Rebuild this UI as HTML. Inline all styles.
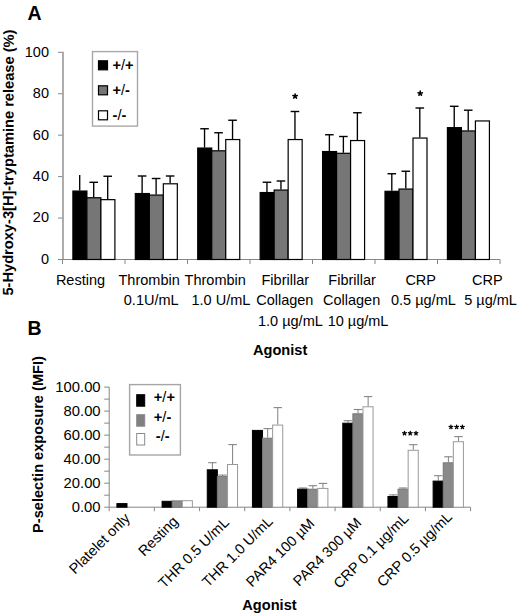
<!DOCTYPE html>
<html><head><meta charset="utf-8"><style>
html,body{margin:0;padding:0;background:#fff;width:520px;height:614px;overflow:hidden}
svg{display:block}
text{font-family:"Liberation Sans", sans-serif;fill:#000}
.t{font-size:14.5px}
.b{font-size:14.6px;font-weight:bold}
.h{font-size:19.5px;font-weight:bold}
</style></head><body>
<svg width="520" height="614" viewBox="0 0 520 614">
<rect width="520" height="614" fill="#fff"/>
<line x1="63" y1="51.8" x2="63" y2="259.5" stroke="#999" stroke-width="1.6"/>
<line x1="62.5" y1="259.5" x2="500.0" y2="259.5" stroke="#868686" stroke-width="1"/>
<line x1="58.0" y1="259.50" x2="62.5" y2="259.50" stroke="#868686" stroke-width="1"/>
<text x="49" y="263.90" text-anchor="end" class="t">0</text>
<line x1="58.0" y1="218.06" x2="62.5" y2="218.06" stroke="#868686" stroke-width="1"/>
<text x="49" y="222.46" text-anchor="end" class="t">20</text>
<line x1="58.0" y1="176.62" x2="62.5" y2="176.62" stroke="#868686" stroke-width="1"/>
<text x="49" y="181.02" text-anchor="end" class="t">40</text>
<line x1="58.0" y1="135.18" x2="62.5" y2="135.18" stroke="#868686" stroke-width="1"/>
<text x="49" y="139.58" text-anchor="end" class="t">60</text>
<line x1="58.0" y1="93.74" x2="62.5" y2="93.74" stroke="#868686" stroke-width="1"/>
<text x="49" y="98.14" text-anchor="end" class="t">80</text>
<line x1="58.0" y1="52.30" x2="62.5" y2="52.30" stroke="#868686" stroke-width="1"/>
<text x="49" y="56.70" text-anchor="end" class="t">100</text>
<line x1="62.50" y1="259.5" x2="62.50" y2="264.0" stroke="#868686" stroke-width="1"/>
<line x1="125.00" y1="259.5" x2="125.00" y2="264.0" stroke="#868686" stroke-width="1"/>
<line x1="187.50" y1="259.5" x2="187.50" y2="264.0" stroke="#868686" stroke-width="1"/>
<line x1="250.00" y1="259.5" x2="250.00" y2="264.0" stroke="#868686" stroke-width="1"/>
<line x1="312.50" y1="259.5" x2="312.50" y2="264.0" stroke="#868686" stroke-width="1"/>
<line x1="375.00" y1="259.5" x2="375.00" y2="264.0" stroke="#868686" stroke-width="1"/>
<line x1="437.50" y1="259.5" x2="437.50" y2="264.0" stroke="#868686" stroke-width="1"/>
<line x1="500.00" y1="259.5" x2="500.00" y2="264.0" stroke="#868686" stroke-width="1"/>
<line x1="79.70" y1="190.50" x2="79.70" y2="174.90" stroke="#000" stroke-width="1.35"/>
<rect x="72.90" y="191.05" width="14.00" height="68.45" fill="#000" stroke="#000" stroke-width="1.2"/>
<line x1="93.70" y1="197.20" x2="93.70" y2="182.30" stroke="#000" stroke-width="1.35"/>
<line x1="89.40" y1="182.30" x2="98.00" y2="182.30" stroke="#000" stroke-width="1.4"/>
<rect x="86.90" y="197.75" width="14.00" height="61.75" fill="#767676" stroke="#000" stroke-width="1.2"/>
<line x1="107.70" y1="199.10" x2="107.70" y2="176.25" stroke="#000" stroke-width="1.35"/>
<line x1="103.40" y1="176.25" x2="112.00" y2="176.25" stroke="#000" stroke-width="1.4"/>
<rect x="100.90" y="199.65" width="14.00" height="59.85" fill="#fff" stroke="#000" stroke-width="1.2"/>
<line x1="142.12" y1="193.00" x2="142.12" y2="176.00" stroke="#000" stroke-width="1.35"/>
<line x1="137.82" y1="176.00" x2="146.42" y2="176.00" stroke="#000" stroke-width="1.4"/>
<rect x="135.32" y="193.55" width="14.00" height="65.95" fill="#000" stroke="#000" stroke-width="1.2"/>
<line x1="156.12" y1="194.50" x2="156.12" y2="178.50" stroke="#000" stroke-width="1.35"/>
<line x1="151.82" y1="178.50" x2="160.42" y2="178.50" stroke="#000" stroke-width="1.4"/>
<rect x="149.32" y="195.05" width="14.00" height="64.45" fill="#767676" stroke="#000" stroke-width="1.2"/>
<line x1="170.12" y1="183.25" x2="170.12" y2="176.00" stroke="#000" stroke-width="1.35"/>
<line x1="165.82" y1="176.00" x2="174.42" y2="176.00" stroke="#000" stroke-width="1.4"/>
<rect x="163.32" y="183.80" width="14.00" height="75.70" fill="#fff" stroke="#000" stroke-width="1.2"/>
<line x1="204.54" y1="147.50" x2="204.54" y2="128.75" stroke="#000" stroke-width="1.35"/>
<line x1="200.24" y1="128.75" x2="208.84" y2="128.75" stroke="#000" stroke-width="1.4"/>
<rect x="197.74" y="148.05" width="14.00" height="111.45" fill="#000" stroke="#000" stroke-width="1.2"/>
<line x1="218.54" y1="150.25" x2="218.54" y2="132.75" stroke="#000" stroke-width="1.35"/>
<line x1="214.24" y1="132.75" x2="222.84" y2="132.75" stroke="#000" stroke-width="1.4"/>
<rect x="211.74" y="150.80" width="14.00" height="108.70" fill="#767676" stroke="#000" stroke-width="1.2"/>
<line x1="232.54" y1="139.00" x2="232.54" y2="120.25" stroke="#000" stroke-width="1.35"/>
<line x1="228.24" y1="120.25" x2="236.84" y2="120.25" stroke="#000" stroke-width="1.4"/>
<rect x="225.74" y="139.55" width="14.00" height="119.95" fill="#fff" stroke="#000" stroke-width="1.2"/>
<line x1="266.96" y1="192.00" x2="266.96" y2="182.25" stroke="#000" stroke-width="1.35"/>
<line x1="262.66" y1="182.25" x2="271.26" y2="182.25" stroke="#000" stroke-width="1.4"/>
<rect x="260.16" y="192.55" width="14.00" height="66.95" fill="#000" stroke="#000" stroke-width="1.2"/>
<line x1="280.96" y1="189.50" x2="280.96" y2="181.00" stroke="#000" stroke-width="1.35"/>
<line x1="276.66" y1="181.00" x2="285.26" y2="181.00" stroke="#000" stroke-width="1.4"/>
<rect x="274.16" y="190.05" width="14.00" height="69.45" fill="#767676" stroke="#000" stroke-width="1.2"/>
<line x1="294.96" y1="139.00" x2="294.96" y2="111.50" stroke="#000" stroke-width="1.35"/>
<line x1="290.66" y1="111.50" x2="299.26" y2="111.50" stroke="#000" stroke-width="1.4"/>
<rect x="288.16" y="139.55" width="14.00" height="119.95" fill="#fff" stroke="#000" stroke-width="1.2"/>
<line x1="329.38" y1="151.00" x2="329.38" y2="134.75" stroke="#000" stroke-width="1.35"/>
<line x1="325.08" y1="134.75" x2="333.68" y2="134.75" stroke="#000" stroke-width="1.4"/>
<rect x="322.58" y="151.55" width="14.00" height="107.95" fill="#000" stroke="#000" stroke-width="1.2"/>
<line x1="343.38" y1="152.75" x2="343.38" y2="136.50" stroke="#000" stroke-width="1.35"/>
<line x1="339.08" y1="136.50" x2="347.68" y2="136.50" stroke="#000" stroke-width="1.4"/>
<rect x="336.58" y="153.30" width="14.00" height="106.20" fill="#767676" stroke="#000" stroke-width="1.2"/>
<line x1="357.38" y1="140.00" x2="357.38" y2="112.75" stroke="#000" stroke-width="1.35"/>
<line x1="353.08" y1="112.75" x2="361.68" y2="112.75" stroke="#000" stroke-width="1.4"/>
<rect x="350.58" y="140.55" width="14.00" height="118.95" fill="#fff" stroke="#000" stroke-width="1.2"/>
<line x1="391.80" y1="190.75" x2="391.80" y2="173.75" stroke="#000" stroke-width="1.35"/>
<line x1="387.50" y1="173.75" x2="396.10" y2="173.75" stroke="#000" stroke-width="1.4"/>
<rect x="385.00" y="191.30" width="14.00" height="68.20" fill="#000" stroke="#000" stroke-width="1.2"/>
<line x1="405.80" y1="188.50" x2="405.80" y2="171.25" stroke="#000" stroke-width="1.35"/>
<line x1="401.50" y1="171.25" x2="410.10" y2="171.25" stroke="#000" stroke-width="1.4"/>
<rect x="399.00" y="189.05" width="14.00" height="70.45" fill="#767676" stroke="#000" stroke-width="1.2"/>
<line x1="419.80" y1="137.50" x2="419.80" y2="108.00" stroke="#000" stroke-width="1.35"/>
<line x1="415.50" y1="108.00" x2="424.10" y2="108.00" stroke="#000" stroke-width="1.4"/>
<rect x="413.00" y="138.05" width="14.00" height="121.45" fill="#fff" stroke="#000" stroke-width="1.2"/>
<line x1="454.22" y1="127.10" x2="454.22" y2="106.30" stroke="#000" stroke-width="1.35"/>
<line x1="449.92" y1="106.30" x2="458.52" y2="106.30" stroke="#000" stroke-width="1.4"/>
<rect x="447.42" y="127.65" width="14.00" height="131.85" fill="#000" stroke="#000" stroke-width="1.2"/>
<line x1="468.22" y1="130.40" x2="468.22" y2="110.20" stroke="#000" stroke-width="1.35"/>
<line x1="463.92" y1="110.20" x2="472.52" y2="110.20" stroke="#000" stroke-width="1.4"/>
<rect x="461.42" y="130.95" width="14.00" height="128.55" fill="#767676" stroke="#000" stroke-width="1.2"/>
<rect x="475.42" y="120.95" width="14.00" height="138.55" fill="#fff" stroke="#000" stroke-width="1.2"/>
<path d="M295.10 96.25L295.10 94.00M295.10 96.25L297.24 95.55M295.10 96.25L296.42 98.07M295.10 96.25L293.78 98.07M295.10 96.25L292.96 95.55" stroke="#000" stroke-width="1.6" stroke-linecap="round" fill="none"/>
<path d="M420.20 93.40L420.20 91.15M420.20 93.40L422.34 92.70M420.20 93.40L421.52 95.22M420.20 93.40L418.88 95.22M420.20 93.40L418.06 92.70" stroke="#000" stroke-width="1.6" stroke-linecap="round" fill="none"/>
<rect x="92.5" y="51.6" width="45" height="74.5" fill="#fff" stroke="#a8a8a8" stroke-width="1.4"/>
<rect x="98.5" y="60.80" width="9" height="9" fill="#000" stroke="#000" stroke-width="1.2"/>
<text x="112.5" y="69.80" class="b">+<tspan font-weight="normal">/</tspan>+</text>
<rect x="98.5" y="85.80" width="9" height="9" fill="#767676" stroke="#000" stroke-width="1.2"/>
<text x="112.5" y="94.80" class="b">+<tspan font-weight="normal">/</tspan>-</text>
<rect x="98.5" y="110.80" width="9" height="9" fill="#fff" stroke="#000" stroke-width="1.2"/>
<text x="112.5" y="119.80" class="b">-<tspan font-weight="normal">/</tspan>-</text>
<text x="55.9" y="284.7" class="t">Resting</text>
<text x="118.5" y="284.7" class="t">Thrombin</text>
<text x="123.8" y="305.1" class="t">0.1U/mL</text>
<text x="184.6" y="284.7" class="t">Thrombin</text>
<text x="191.5" y="305.1" class="t">1.0 U/mL</text>
<text x="261.5" y="284.7" class="t">Fibrillar</text>
<text x="256.2" y="305.1" class="t">Collagen</text>
<text x="258" y="325.5" class="t">1.0 µg/mL</text>
<text x="328.3" y="284.7" class="t">Fibrillar</text>
<text x="323" y="305.1" class="t">Collagen</text>
<text x="327.7" y="325.5" class="t">10 µg/mL</text>
<text x="405.4" y="284.7" class="t">CRP</text>
<text x="391" y="305.1" class="t">0.5 µg/mL</text>
<text x="472" y="284.7" class="t">CRP</text>
<text x="464.2" y="305.1" class="t">5 µg/mL</text>
<text x="253" y="355" class="b">Agonist</text>
<text x="27.5" y="19.8" class="h">A</text>
<text transform="translate(12.9,295.6) rotate(-89.8)" class="b" style="font-size:14.65px">5-Hydroxy-3[H]-tryptamine release (%)</text>
<line x1="109.2" y1="387.1" x2="109.2" y2="507.2" stroke="#868686" stroke-width="1"/>
<line x1="109.2" y1="507.2" x2="470.6" y2="507.2" stroke="#868686" stroke-width="1"/>
<line x1="104.2" y1="507.20" x2="109.2" y2="507.20" stroke="#868686" stroke-width="1"/>
<text x="100.6" y="512.30" text-anchor="end" class="t" style="font-size:14.8px">0.00</text>
<line x1="104.2" y1="495.19" x2="109.2" y2="495.19" stroke="#868686" stroke-width="1"/>
<line x1="104.2" y1="483.18" x2="109.2" y2="483.18" stroke="#868686" stroke-width="1"/>
<text x="100.6" y="488.28" text-anchor="end" class="t" style="font-size:14.8px">20.00</text>
<line x1="104.2" y1="471.17" x2="109.2" y2="471.17" stroke="#868686" stroke-width="1"/>
<line x1="104.2" y1="459.16" x2="109.2" y2="459.16" stroke="#868686" stroke-width="1"/>
<text x="100.6" y="464.26" text-anchor="end" class="t" style="font-size:14.8px">40.00</text>
<line x1="104.2" y1="447.15" x2="109.2" y2="447.15" stroke="#868686" stroke-width="1"/>
<line x1="104.2" y1="435.14" x2="109.2" y2="435.14" stroke="#868686" stroke-width="1"/>
<text x="100.6" y="440.24" text-anchor="end" class="t" style="font-size:14.8px">60.00</text>
<line x1="104.2" y1="423.13" x2="109.2" y2="423.13" stroke="#868686" stroke-width="1"/>
<line x1="104.2" y1="411.12" x2="109.2" y2="411.12" stroke="#868686" stroke-width="1"/>
<text x="100.6" y="416.22" text-anchor="end" class="t" style="font-size:14.8px">80.00</text>
<line x1="104.2" y1="399.11" x2="109.2" y2="399.11" stroke="#868686" stroke-width="1"/>
<line x1="104.2" y1="387.10" x2="109.2" y2="387.10" stroke="#868686" stroke-width="1"/>
<text x="100.6" y="392.20" text-anchor="end" class="t" style="font-size:14.8px">100.00</text>
<line x1="109.20" y1="507.2" x2="109.20" y2="511.2" stroke="#868686" stroke-width="1"/>
<line x1="154.38" y1="507.2" x2="154.38" y2="511.2" stroke="#868686" stroke-width="1"/>
<line x1="199.55" y1="507.2" x2="199.55" y2="511.2" stroke="#868686" stroke-width="1"/>
<line x1="244.73" y1="507.2" x2="244.73" y2="511.2" stroke="#868686" stroke-width="1"/>
<line x1="289.90" y1="507.2" x2="289.90" y2="511.2" stroke="#868686" stroke-width="1"/>
<line x1="335.08" y1="507.2" x2="335.08" y2="511.2" stroke="#868686" stroke-width="1"/>
<line x1="380.25" y1="507.2" x2="380.25" y2="511.2" stroke="#868686" stroke-width="1"/>
<line x1="425.43" y1="507.2" x2="425.43" y2="511.2" stroke="#868686" stroke-width="1"/>
<line x1="470.60" y1="507.2" x2="470.60" y2="511.2" stroke="#868686" stroke-width="1"/>
<rect x="116.90" y="503.60" width="10.10" height="3.60" fill="#000" stroke="#000" stroke-width="1"/>
<rect x="162.07" y="501.30" width="10.10" height="5.90" fill="#000" stroke="#000" stroke-width="1"/>
<rect x="172.17" y="500.90" width="10.10" height="6.30" fill="#8a8a8a" stroke="#777" stroke-width="1"/>
<rect x="182.27" y="500.70" width="10.10" height="6.50" fill="#fff" stroke="#999" stroke-width="1"/>
<line x1="212.40" y1="469.30" x2="212.40" y2="462.40" stroke="#808080" stroke-width="1"/>
<line x1="208.20" y1="462.70" x2="216.60" y2="462.70" stroke="#858585" stroke-width="1.1"/>
<rect x="207.25" y="469.80" width="10.10" height="37.40" fill="#000" stroke="#000" stroke-width="1"/>
<line x1="222.50" y1="476.10" x2="222.50" y2="474.80" stroke="#808080" stroke-width="1"/>
<line x1="218.30" y1="475.10" x2="226.70" y2="475.10" stroke="#858585" stroke-width="1.1"/>
<rect x="217.35" y="476.60" width="10.10" height="30.60" fill="#8a8a8a" stroke="#777" stroke-width="1"/>
<line x1="232.60" y1="464.00" x2="232.60" y2="444.30" stroke="#808080" stroke-width="1"/>
<line x1="228.40" y1="444.60" x2="236.80" y2="444.60" stroke="#858585" stroke-width="1.1"/>
<rect x="227.45" y="464.50" width="10.10" height="42.70" fill="#fff" stroke="#999" stroke-width="1"/>
<rect x="252.43" y="430.40" width="10.10" height="76.80" fill="#000" stroke="#000" stroke-width="1"/>
<line x1="267.68" y1="437.70" x2="267.68" y2="428.30" stroke="#808080" stroke-width="1"/>
<line x1="263.48" y1="428.60" x2="271.88" y2="428.60" stroke="#858585" stroke-width="1.1"/>
<rect x="262.53" y="438.20" width="10.10" height="69.00" fill="#8a8a8a" stroke="#777" stroke-width="1"/>
<line x1="277.78" y1="424.60" x2="277.78" y2="407.30" stroke="#808080" stroke-width="1"/>
<line x1="273.58" y1="407.60" x2="281.98" y2="407.60" stroke="#858585" stroke-width="1.1"/>
<rect x="272.62" y="425.10" width="10.10" height="82.10" fill="#fff" stroke="#999" stroke-width="1"/>
<line x1="302.75" y1="488.70" x2="302.75" y2="487.70" stroke="#808080" stroke-width="1"/>
<line x1="298.55" y1="488.00" x2="306.95" y2="488.00" stroke="#858585" stroke-width="1.1"/>
<rect x="297.60" y="489.20" width="10.10" height="18.00" fill="#000" stroke="#000" stroke-width="1"/>
<line x1="312.85" y1="488.70" x2="312.85" y2="485.40" stroke="#808080" stroke-width="1"/>
<line x1="308.65" y1="485.70" x2="317.05" y2="485.70" stroke="#858585" stroke-width="1.1"/>
<rect x="307.70" y="489.20" width="10.10" height="18.00" fill="#8a8a8a" stroke="#777" stroke-width="1"/>
<line x1="322.95" y1="487.90" x2="322.95" y2="483.10" stroke="#808080" stroke-width="1"/>
<line x1="318.75" y1="483.40" x2="327.15" y2="483.40" stroke="#858585" stroke-width="1.1"/>
<rect x="317.80" y="488.40" width="10.10" height="18.80" fill="#fff" stroke="#999" stroke-width="1"/>
<line x1="347.93" y1="422.70" x2="347.93" y2="420.40" stroke="#808080" stroke-width="1"/>
<line x1="343.73" y1="420.70" x2="352.13" y2="420.70" stroke="#858585" stroke-width="1.1"/>
<rect x="342.78" y="423.20" width="10.10" height="84.00" fill="#000" stroke="#000" stroke-width="1"/>
<line x1="358.03" y1="413.30" x2="358.03" y2="409.20" stroke="#808080" stroke-width="1"/>
<line x1="353.83" y1="409.50" x2="362.23" y2="409.50" stroke="#858585" stroke-width="1.1"/>
<rect x="352.88" y="413.80" width="10.10" height="93.40" fill="#8a8a8a" stroke="#777" stroke-width="1"/>
<line x1="368.13" y1="406.30" x2="368.13" y2="396.30" stroke="#808080" stroke-width="1"/>
<line x1="363.93" y1="396.60" x2="372.33" y2="396.60" stroke="#858585" stroke-width="1.1"/>
<rect x="362.98" y="406.80" width="10.10" height="100.40" fill="#fff" stroke="#999" stroke-width="1"/>
<line x1="393.10" y1="496.00" x2="393.10" y2="494.60" stroke="#808080" stroke-width="1"/>
<line x1="388.90" y1="494.90" x2="397.30" y2="494.90" stroke="#858585" stroke-width="1.1"/>
<rect x="387.95" y="496.50" width="10.10" height="10.70" fill="#000" stroke="#000" stroke-width="1"/>
<line x1="403.20" y1="488.70" x2="403.20" y2="487.70" stroke="#808080" stroke-width="1"/>
<line x1="399.00" y1="488.00" x2="407.40" y2="488.00" stroke="#858585" stroke-width="1.1"/>
<rect x="398.05" y="489.20" width="10.10" height="18.00" fill="#8a8a8a" stroke="#777" stroke-width="1"/>
<line x1="413.30" y1="449.80" x2="413.30" y2="444.40" stroke="#808080" stroke-width="1"/>
<line x1="409.10" y1="444.70" x2="417.50" y2="444.70" stroke="#858585" stroke-width="1.1"/>
<rect x="408.15" y="450.30" width="10.10" height="56.90" fill="#fff" stroke="#999" stroke-width="1"/>
<line x1="438.28" y1="480.60" x2="438.28" y2="475.40" stroke="#808080" stroke-width="1"/>
<line x1="434.08" y1="475.70" x2="442.48" y2="475.70" stroke="#858585" stroke-width="1.1"/>
<rect x="433.12" y="481.10" width="10.10" height="26.10" fill="#000" stroke="#000" stroke-width="1"/>
<line x1="448.38" y1="462.30" x2="448.38" y2="456.50" stroke="#808080" stroke-width="1"/>
<line x1="444.18" y1="456.80" x2="452.58" y2="456.80" stroke="#858585" stroke-width="1.1"/>
<rect x="443.23" y="462.80" width="10.10" height="44.40" fill="#8a8a8a" stroke="#777" stroke-width="1"/>
<line x1="458.48" y1="441.20" x2="458.48" y2="436.30" stroke="#808080" stroke-width="1"/>
<line x1="454.28" y1="436.60" x2="462.68" y2="436.60" stroke="#858585" stroke-width="1.1"/>
<rect x="453.32" y="441.70" width="10.10" height="65.50" fill="#fff" stroke="#999" stroke-width="1"/>
<path d="M404.50 433.30L404.50 431.35M404.50 433.30L406.35 432.70M404.50 433.30L405.65 434.88M404.50 433.30L403.35 434.88M404.50 433.30L402.65 432.70" stroke="#000" stroke-width="1.3" stroke-linecap="round" fill="none"/>
<path d="M450.90 427.00L450.90 425.05M450.90 427.00L452.75 426.40M450.90 427.00L452.05 428.58M450.90 427.00L449.75 428.58M450.90 427.00L449.05 426.40" stroke="#000" stroke-width="1.3" stroke-linecap="round" fill="none"/>
<path d="M410.25 433.30L410.25 431.35M410.25 433.30L412.10 432.70M410.25 433.30L411.40 434.88M410.25 433.30L409.10 434.88M410.25 433.30L408.40 432.70" stroke="#000" stroke-width="1.3" stroke-linecap="round" fill="none"/>
<path d="M456.65 427.00L456.65 425.05M456.65 427.00L458.50 426.40M456.65 427.00L457.80 428.58M456.65 427.00L455.50 428.58M456.65 427.00L454.80 426.40" stroke="#000" stroke-width="1.3" stroke-linecap="round" fill="none"/>
<path d="M416.00 433.30L416.00 431.35M416.00 433.30L417.85 432.70M416.00 433.30L417.15 434.88M416.00 433.30L414.85 434.88M416.00 433.30L414.15 432.70" stroke="#000" stroke-width="1.3" stroke-linecap="round" fill="none"/>
<path d="M462.40 427.00L462.40 425.05M462.40 427.00L464.25 426.40M462.40 427.00L463.55 428.58M462.40 427.00L461.25 428.58M462.40 427.00L460.55 426.40" stroke="#000" stroke-width="1.3" stroke-linecap="round" fill="none"/>
<rect x="129.6" y="384.6" width="50.8" height="70.4" fill="#fff" stroke="#a6a6a6" stroke-width="1.4"/>
<rect x="136.7" y="394.70" width="8" height="11.5" fill="#000" stroke="#000" stroke-width="1"/>
<text x="153.80" y="401.90" class="b">+<tspan font-weight="normal">/</tspan>+</text>
<rect x="136.7" y="414.70" width="8" height="11.5" fill="#808080" stroke="#888" stroke-width="1"/>
<text x="153.80" y="421.90" class="b">+<tspan font-weight="normal">/</tspan>-</text>
<rect x="136.7" y="433.50" width="8" height="11.5" fill="#fff" stroke="#8a8a8a" stroke-width="1"/>
<text x="155.80" y="440.70" class="b">-<tspan font-weight="normal">/</tspan>-</text>
<text transform="translate(130.89,519.00) rotate(-45)" text-anchor="end" class="t">Platelet only</text>
<text transform="translate(178.96,522.20) rotate(-45)" text-anchor="end" class="t">Resting</text>
<text transform="translate(229.84,523.40) rotate(-45)" text-anchor="end" class="t">THR 0.5 U/mL</text>
<text transform="translate(273.61,522.30) rotate(-45)" text-anchor="end" class="t">THR 1.0 U/mL</text>
<text transform="translate(315.19,524.40) rotate(-45)" text-anchor="end" class="t">PAR4 100 µM</text>
<text transform="translate(362.36,523.80) rotate(-45)" text-anchor="end" class="t">PAR4 300 µM</text>
<text transform="translate(409.54,519.20) rotate(-45)" text-anchor="end" class="t">CRP 0.1 µg/mL</text>
<text transform="translate(453.01,517.70) rotate(-45)" text-anchor="end" class="t">CRP 0.5 µg/mL</text>
<text x="242.3" y="609.6" class="b">Agonist</text>
<text x="27.5" y="335" class="h">B</text>
<text transform="translate(43.2,532.9) rotate(-90)" class="b" style="font-size:14.6px">P-selectin exposure (MFI)</text>
</svg>
</body></html>
